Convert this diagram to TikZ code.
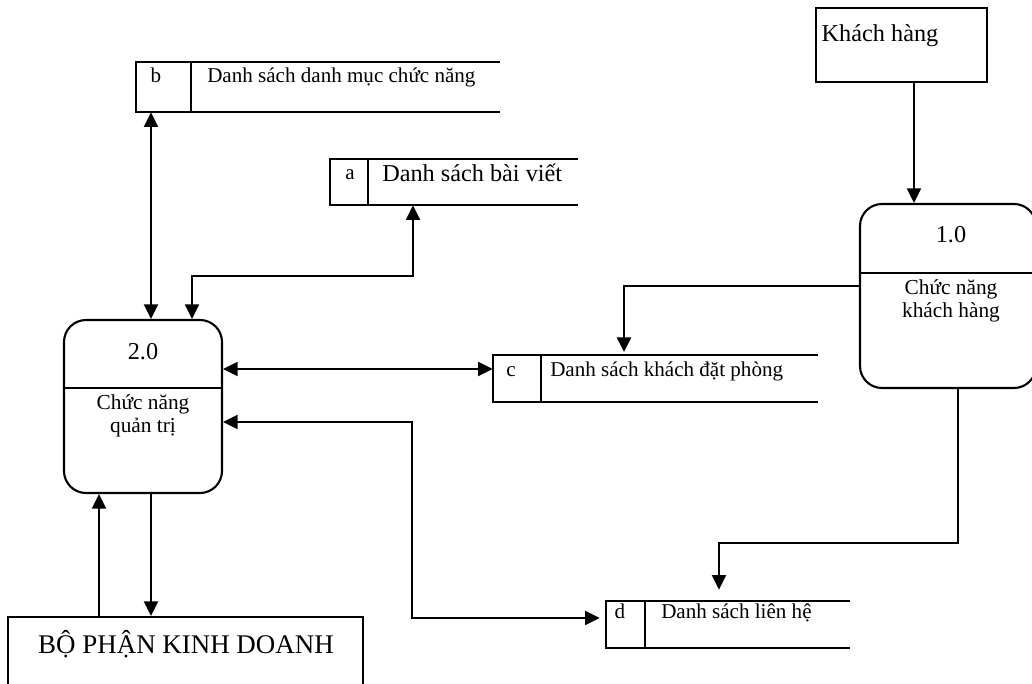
\documentclass[tikz,border=0pt]{standalone}
\usepackage{fontspec}
\setmainfont{Liberation Serif}
\usetikzlibrary{arrows.meta}
\tikzset{
  x=0.75pt, y=-0.75pt,
  ln/.style={line width=1.7pt},
  thinln/.style={line width=1.2pt},
  tip/.tip={Triangle[length=11pt,width=10.5pt]},
  arr/.style={ln, -tip},
  darr/.style={ln, tip-tip},
  ext/.style={draw, line width=1.6pt, inner sep=0pt},
  proc/.style={draw, line width=1.6pt, rounded corners=16.5pt, inner sep=0pt},
  store/.style={inner sep=0pt},
  txt/.style={inner sep=0pt, anchor=base},
  ltxt/.style={inner sep=0pt, anchor=base west},
  fA/.style={font=\fontsize{15.8}{18}\selectfont},
  fP/.style={font=\fontsize{16}{19}\selectfont},
  fB/.style={font=\fontsize{18.2}{21}\selectfont},
  fC/.style={font=\fontsize{20.2}{24}\selectfont},
}
\begin{document}
\begin{tikzpicture}
\useasboundingbox (0,0) rectangle (1032,684);
\clip (0,0) rectangle (1032,684);

% external entities
\node[ext, minimum width=128.25pt, minimum height=55.5pt] (kh) at (901.5,45) {};
\node[txt,fB] (khT) at (880,42) {Khách hàng};
\node[ext, minimum width=266.25pt, minimum height=90pt] (bp) at (185.5,677) {};
\node[txt,fC] (bpT) at (186,653) {BỘ PHẬN KINH DOANH};

% processes
\node[proc, minimum width=118.5pt, minimum height=129.75pt] (p2) at (143,406.5) {};
\coordinate (p2d) at (0,388);
\draw[thinln] (p2.west |- p2d) -- (p2.east |- p2d);
\node[txt,fB] (p2n) at (143,359) {2.0};
\node[txt,fP] (p2t1) at (143,409) {Chức năng};
\node[txt,fP] (p2t2) at (143,432) {quản trị};

\node[proc, minimum width=132pt, minimum height=138pt] (p1) at (948,296) {};
\coordinate (p1d) at (0,273);
\draw[thinln] (p1.west |- p1d) -- (p1.east |- p1d);
\node[txt,fB] (p1n) at (951,243) {1.0};
\node[txt,fP] (p1t1) at (951,295) {Chức năng};
\node[txt,fP] (p1t2) at (951,318) {khách hàng};

% data stores
\node[store, minimum width=273pt, minimum height=37.5pt] (b) at (318,87) {};
\coordinate (bd) at (191,0);
\draw[ln] (b.north east) -- (b.north west) -- (b.south west) -- (b.south east);
\draw[ln] (b.north -| bd) -- (b.south -| bd);
\node[txt,fA] (bL) at (156,83) {b};
\node[ltxt,fA] (bT) at (207,83) {Danh sách danh mục chức năng};

\node[store, minimum width=186pt, minimum height=34.5pt] (a) at (454,182) {};
\coordinate (ad) at (368,0);
\draw[ln] (a.north east) -- (a.north west) -- (a.south west) -- (a.south east);
\draw[ln] (a.north -| ad) -- (a.south -| ad);
\node[txt,fA] (aL) at (350,180) {a};
\node[ltxt,fB] (aT) at (382,182) {Danh sách bài viết};

\node[store, minimum width=243.75pt, minimum height=35.25pt] (c) at (655.5,378.5) {};
\coordinate (cd) at (541,0);
\draw[ln] (c.north east) -- (c.north west) -- (c.south west) -- (c.south east);
\draw[ln] (c.north -| cd) -- (c.south -| cd);
\node[txt,fA] (cL) at (511,377) {c};
\node[ltxt,fA] (cT) at (550,377) {Danh sách khách đặt phòng};

\node[store, minimum width=183pt, minimum height=35.25pt] (d) at (728,624.5) {};
\coordinate (dd) at (645,0);
\draw[ln] (d.north east) -- (d.north west) -- (d.south west) -- (d.south east);
\draw[ln] (d.north -| dd) -- (d.south -| dd);
\node[txt,fA] (dL) at (620,618) {d};
\node[ltxt,fA] (dT) at (661,618) {Danh sách liên hệ};

% connectors
\coordinate (xb) at (151,0);
\draw[darr] (b.south -| xb) -- (p2.north -| xb);

\coordinate (ca) at (413,276);
\coordinate (cq) at (192,276);
\draw[darr] (a.south -| ca) -- (ca) -- (cq) -- (p2.north -| cq);

\coordinate (cc) at (0,369);
\draw[darr] (p2.east |- cc) -- (c.west |- cc);

\coordinate (k1) at (624,286);
\draw[arr, shorten >=2pt] (p1.west |- k1) -- (k1) -- (c.north -| k1);

\coordinate (m1) at (412,422);
\coordinate (m2) at (412,618);
\draw[darr, shorten >=4.5pt] (p2.east |- m1) -- (m1) -- (m2) -- (d.west |- m2);

\coordinate (n1) at (958,543);
\coordinate (n2) at (719,543);
\draw[arr, shorten >=8.25pt] (p1.south -| n1) -- (n1) -- (n2) -- (d.north -| n2);

\coordinate (kx) at (914,0);
\draw[arr] (kh.south -| kx) -- (p1.north -| kx);

\coordinate (xd) at (151,0);
\coordinate (xu) at (99,0);
\draw[arr] (p2.south -| xd) -- (bp.north -| xd);
\draw[arr] (bp.north -| xu) -- (p2.south -| xu);
\end{tikzpicture}
\end{document}
